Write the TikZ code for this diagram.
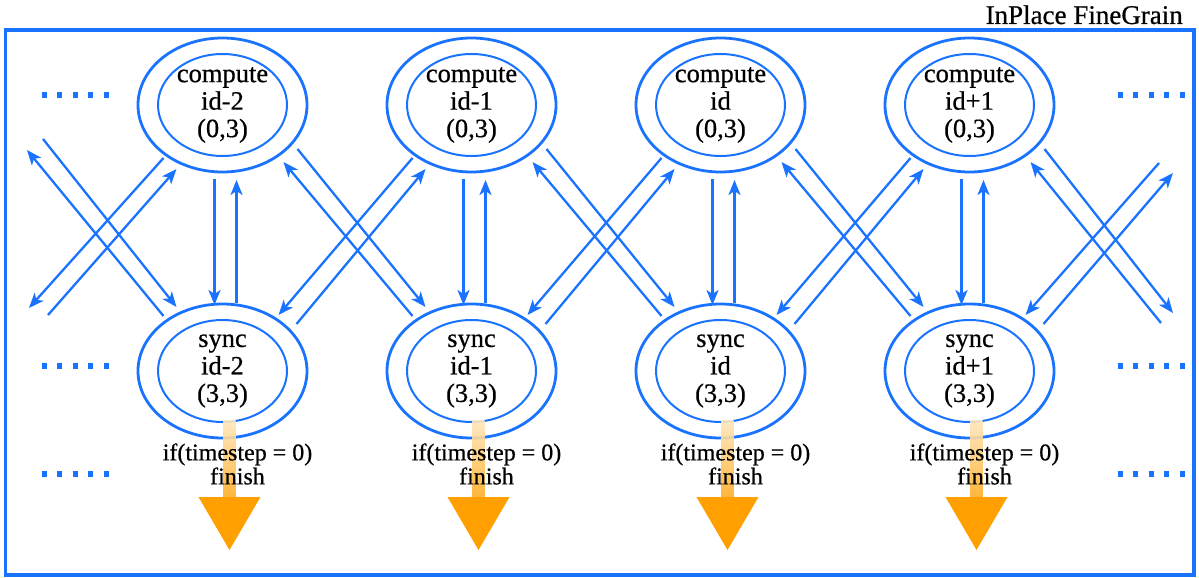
\documentclass[tikz,border=0pt]{standalone}
\usepackage{fontspec}
\setmainfont{Liberation Serif}[FakeBold=0.6]
\usetikzlibrary{shapes.geometric,arrows.meta}
\definecolor{myblue}{HTML}{1A73FF}
\definecolor{myorange}{HTML}{FFA000}
\begin{document}
\begin{tikzpicture}[x=1pt,y=-1pt,
  ring/.style={ellipse, draw=myblue, line width=2.8pt, minimum width=169pt, minimum height=134pt,
    inner sep=0pt, align=center, font=\fontsize{26.5}{27.5}\selectfont},
  inring/.style={draw=myblue, line width=2pt},
  conn/.style={draw=myblue, line width=2.3pt, -{Stealth[length=15pt,width=12pt,inset=4pt]}},
  lbl/.style={align=center, font=\fontsize{24}{24}\selectfont, inner sep=0pt},
  dotrow/.style={myblue, line width=6pt, dash pattern=on 5pt off 10.5pt},
  frame/.style={draw=myblue, line width=3.5pt}
]
\useasboundingbox (0,0) rectangle (1199,578);
\draw[frame] (5.5,30) rectangle (1194,575);
\node[anchor=base east, font=\fontsize{27}{28}\selectfont, inner sep=0pt] (title) at (1183,24) {InPlace FineGrain};

% nodes
\foreach \i/\lab in {0/id-2,1/id-1,2/id,3/id+1}{
  \node[ring] (c\i) at ({222.5+249*\i},105) {compute\\\lab\\(0,3)};
  \draw[inring] (c\i.center) ellipse [x radius=64.5, y radius=51];
  \node[ring] (s\i) at ({222.5+249*\i},371) {sync\\\lab\\(3,3)};
  \draw[inring] (s\i.center) ellipse [x radius=64.5, y radius=51];
  % vertical connectors
  \draw[conn] ([shift={(-8,74)}]c\i.center) -- ([shift={(-8,-66)}]s\i.center);
  \draw[conn] ([shift={(14,-68)}]s\i.center) -- ([shift={(14,75)}]c\i.center);
  % finish arrow
  \shade[top color=myorange!25, bottom color=myorange!85, fill opacity=0.9]
    ([shift={(1,49)}]s\i.center) rectangle ([shift={(13,126)}]s\i.center);
  \fill[myorange] ([shift={(-24,126)}]s\i.center) -- ([shift={(38,126)}]s\i.center)
    -- ([shift={(7,179)}]s\i.center) -- cycle;
  \node[lbl] (t\i) at ({237.5+249*\i},464) {if(timestep = 0)\\finish};
}

% diagonal connectors between neighbours
\foreach \i in {0,1,2}{
  \pgfmathtruncatemacro\j{\i+1}
  \draw[conn] ([shift={(75,44)}]c\i.center) -- ([shift={(-46,-64)}]s\j.center);
  \draw[conn] ([shift={(-59,-55)}]s\j.center) -- ([shift={(61,57)}]c\i.center);
  \draw[conn] ([shift={(74,-47)}]s\i.center) -- ([shift={(-46,64)}]c\j.center);
  \draw[conn] ([shift={(-59,53)}]c\j.center) -- ([shift={(56,-56)}]s\i.center);
}

% left edge
\coordinate (la) at (43,139);
\coordinate (lb) at (27,150);
\coordinate (lc) at (29,308);
\coordinate (ld) at (48,315);
\draw[conn] (la) -- ([shift={(-46,-64)}]s0.center);
\draw[conn] ([shift={(-59,-55)}]s0.center) -- (lb);
\draw[conn] ([shift={(-59,53)}]c0.center) -- (lc);
\draw[conn] (ld) -- ([shift={(-46,64)}]c0.center);

% right edge
\coordinate (ra) at (1173,313);
\coordinate (rb) at (1161,323);
\coordinate (rc) at (1159,163);
\coordinate (rd) at (1173,173);
\draw[conn] ([shift={(75,44)}]c3.center) -- (ra);
\draw[conn] (rb) -- ([shift={(61,57)}]c3.center);
\draw[conn] (rc) -- ([shift={(56,-56)}]s3.center);
\draw[conn] ([shift={(74,-47)}]s3.center) -- (rd);

% dots
\foreach \y in {95,366,474}{
  \draw[dotrow] (41.5,\y) -- (108.5,\y);
  \draw[dotrow] (1117.5,\y) -- (1184.5,\y);
}
\end{tikzpicture}
\end{document}
